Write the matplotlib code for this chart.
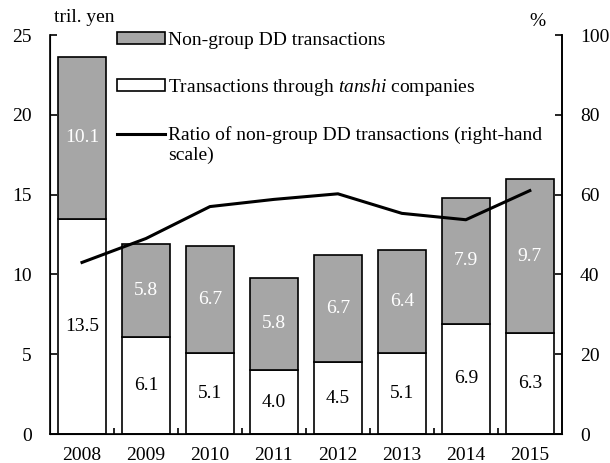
import numpy as np
import matplotlib
matplotlib.use("Agg")
import matplotlib.pyplot as plt

plt.rcParams['font.family'] = ['Liberation Serif', 'DejaVu Serif']
plt.rcParams['mathtext.fontset'] = 'custom'
plt.rcParams['mathtext.rm'] = 'Liberation Serif'
plt.rcParams['mathtext.it'] = 'Liberation Serif:italic'

years = ['2008', '2009', '2010', '2011', '2012', '2013', '2014', '2015']
tanshi = [13.5, 6.1, 5.1, 4.0, 4.5, 5.1, 6.9, 6.3]
nongroup = [10.1, 5.8, 6.7, 5.8, 6.7, 6.4, 7.9, 9.7]
ratio = [43.0, 49.0, 57.0, 58.8, 60.2, 55.3, 53.7, 61.0]

x = np.arange(len(years))
fs = 14

fig = plt.figure(figsize=(6.1, 4.63), dpi=100)
ax = fig.add_axes([0.082, 0.0626, 0.839, 0.8618])

b1 = ax.bar(x, tanshi, width=0.76, color='white', edgecolor='black', linewidth=1.2,
            label='Transactions through $\\it{tanshi}$ companies')
b2 = ax.bar(x, nongroup, width=0.76, bottom=tanshi, color='#a6a6a6', edgecolor='black',
            linewidth=1.2, label='Non-group DD transactions')

for i in range(len(years)):
    ax.text(x[i], tanshi[i] / 2, '%.1f' % tanshi[i], ha='center', va='center',
            fontsize=fs, color='black')
    ax.text(x[i], tanshi[i] + nongroup[i] / 2, '%.1f' % nongroup[i], ha='center',
            va='center', fontsize=fs, color='white')

ax.set_xlim(-0.5, len(years) - 0.5)
ax.set_ylim(0, 25)
ax.set_yticks([0, 5, 10, 15, 20, 25])
ax.set_xticks(x)
ax.set_xticklabels(years)
ax.set_xticks(np.arange(0.5, len(years) - 0.5, 1), minor=True)
ax.tick_params(axis='x', which='major', length=0, labelsize=fs, pad=9)
ax.tick_params(axis='x', which='minor', direction='in', length=4, width=1.2)
ax.tick_params(axis='y', direction='in', length=5, width=1.2, labelsize=fs, pad=13)
ax.spines['top'].set_visible(False)
for s in ['left', 'bottom', 'right']:
    ax.spines[s].set_linewidth(1.2)

ax2 = ax.twinx()
ln, = ax2.plot(x, ratio, color='black', linewidth=2.2,
               label='Ratio of non-group DD transactions (right-hand')
ax2.set_ylim(0, 100)
ax2.set_yticks([0, 20, 40, 60, 80, 100])
ax2.tick_params(axis='y', direction='in', length=5, width=1.2, labelsize=fs, pad=13)
ax2.spines['top'].set_visible(False)
ax2.spines['right'].set_linewidth(1.2)

fig.text(54 / 610, 1 - 17 / 463, 'tril. yen', fontsize=fs, ha='left', va='center')
fig.text(537 / 610, 1 - 22 / 463, '%', fontsize=fs, ha='center', va='center')

leg = ax.legend([b2, b1, ln], [b2.get_label(), b1.get_label(), ln.get_label()],
                loc='upper left', bbox_to_anchor=(0.116, 1.0275), borderaxespad=0,
                frameon=False, fontsize=fs, handlelength=2.47, handleheight=0.52,
                handletextpad=0.15, labelspacing=1.45)
fig.text(168 / 610, 1 - 155 / 463, 'scale)', fontsize=fs, ha='left', va='center')

fig.savefig('out.png', dpi=100)
